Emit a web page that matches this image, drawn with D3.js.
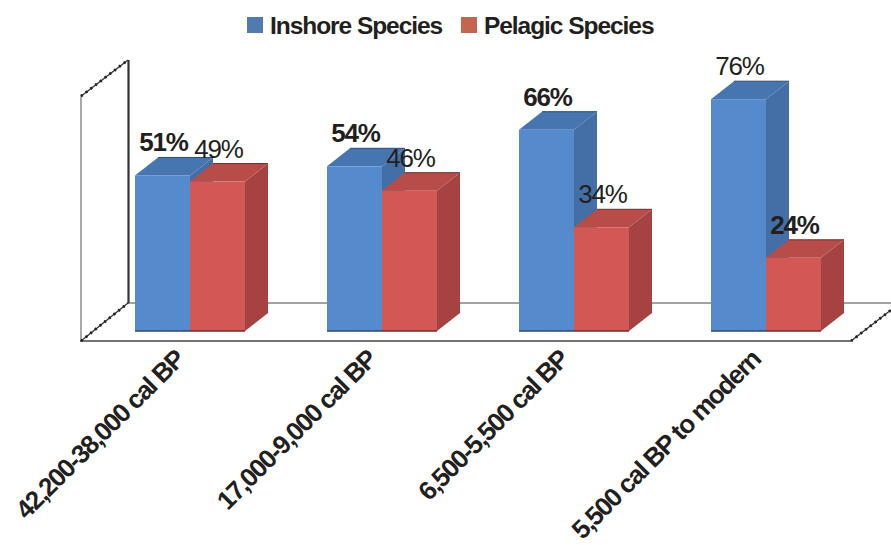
<!DOCTYPE html>
<meta charset="utf-8">
<style>
body { margin: 0; background-color: #fff; }
text { font-family: "Liberation Sans", Arial, sans-serif; fill: #231f20; }
.legend { font-size: 24.5px; font-weight: bold; letter-spacing: -1.05px; }
.cat { font-size: 26px; font-weight: bold; letter-spacing: -1.45px; }
.val { font-size: 26px; letter-spacing: -1.2px; text-anchor: middle; }
.val.bold { font-weight: bold; }
</style>
<body>
<svg width="891" height="545"></svg>
</body>
<script src="https://d3js.org/d3.v7.min.js"></script>
<script>

var categories = ["42,200-38,000 cal BP", "17,000-9,000 cal BP", "6,500-5,500 cal BP", "5,500 cal BP to modern"];
var seriesNames = ["Inshore Species", "Pelagic Species"];
var inshore = [51, 54, 66, 76];
var pelagic = [49, 46, 34, 24];
var inshoreBold = [true, true, true, false];
var pelagicBold = [false, false, false, true];

var front = ["#558acd", "#d25755"],
    side = ["#446fa6", "#a54342"],
    top_ = ["#4675af", "#b84c49"],
    edge = ["#2f4a6e", "#6e2b2a"],
    swatch = ["#4f7bb0", "#c4664f"];

var svg = d3.select("svg"),
    depth = {x: 23, y: -18},
    baseY = 331;

var x = d3.scaleBand()
    .domain(categories)
    .range([94, 862])
    .paddingInner(0.427)
    .paddingOuter(0.2135);

var x1 = d3.scaleBand()
    .domain([0, 1])
    .range([0, x.bandwidth()]);

var y = d3.scaleLinear()
    .domain([0, 100])
    .range([baseY, 26]);

// wall and floor
var floorFrontY = 341, floorBackY = 303, wallTop = y(77), wallBackTop = 60;
var frame = svg.append("g").attr("fill", "none");

function jag(x0, y0, x1_, y1_) {
  frame.append("line").attr("x1", x0).attr("y1", y0).attr("x2", x1_).attr("y2", y1_)
      .attr("stroke", "#333").attr("stroke-width", 1.3);
  frame.append("line").attr("x1", x0).attr("y1", y0).attr("x2", x1_).attr("y2", y1_)
      .attr("stroke", "#222").attr("stroke-width", 2.8).attr("stroke-dasharray", "2 4");
}

frame.append("line").attr("x1", 81).attr("y1", wallTop).attr("x2", 81).attr("y2", floorFrontY)
    .attr("stroke", "#555").attr("stroke-width", 1);
frame.append("line").attr("x1", 128.5).attr("y1", wallBackTop).attr("x2", 128.5).attr("y2", floorBackY)
    .attr("stroke", "#333").attr("stroke-width", 2.2);
frame.append("line").attr("x1", 128).attr("y1", floorBackY).attr("x2", 891).attr("y2", floorBackY)
    .attr("stroke", "#444").attr("stroke-width", 1);
frame.append("line").attr("x1", 80).attr("y1", floorFrontY).attr("x2", 851).attr("y2", floorFrontY)
    .attr("stroke", "#444").attr("stroke-width", 1.5);
jag(81, wallTop, 128, wallBackTop);
jag(81, floorFrontY, 128, floorBackY);
jag(851, floorFrontY, 891, 310);

// bars
var groups = svg.selectAll("g.group")
    .data(categories)
  .enter().append("g")
    .attr("class", "group")
    .attr("transform", function(d) { return "translate(" + x(d) + ",0)"; });

function poly(pts) { return pts.map(function(p) { return p.join(","); }).join(" "); }

groups.each(function(d, i) {
  var g = d3.select(this);
  [inshore[i], pelagic[i]].forEach(function(v, s) {
    var l = x1(s), r = l + x1.bandwidth(), t = y(v), b = y(0);
    g.append("polygon")
        .attr("points", poly([[r, t], [r + depth.x, t + depth.y], [r + depth.x, b + depth.y], [r, b]]))
        .attr("fill", side[s]);
    g.append("polygon")
        .attr("points", poly([[l, t], [l + depth.x, t + depth.y], [r + depth.x, t + depth.y], [r, t]]))
        .attr("fill", top_[s]);
    g.append("line")
        .attr("x1", l + depth.x).attr("x2", r + depth.x)
        .attr("y1", t + depth.y).attr("y2", t + depth.y)
        .attr("stroke", edge[s]).attr("stroke-width", 1);
    g.append("rect")
        .attr("x", l).attr("y", t)
        .attr("width", x1.bandwidth()).attr("height", b - t)
        .attr("fill", front[s]);
    g.append("line")
        .attr("x1", l).attr("x2", r)
        .attr("y1", b).attr("y2", b)
        .attr("stroke", edge[s]).attr("stroke-width", 1.5);
  });
});

// value labels sit on top, over every bar
categories.forEach(function(c, i) {
  [[inshore, inshoreBold], [pelagic, pelagicBold]].forEach(function(pair, s) {
    svg.append("text")
        .attr("class", pair[1][i] ? "val bold" : "val")
        .attr("x", x(c) + x1(s) + x1.bandwidth() / 2 + 1)
        .attr("y", y(pair[0][i]) - 24)
        .text(pair[0][i] + "%");
  });
});

// category labels
categories.forEach(function(c) {
  svg.append("text")
      .attr("class", "cat")
      .attr("text-anchor", "end")
      .attr("transform", "translate(" + (x(c) + x.bandwidth() / 2 - 4) + ",361) rotate(-45)")
      .text(c);
});

// legend
var legendX = [247, 461];
seriesNames.forEach(function(name, i) {
  svg.append("rect")
      .attr("x", legendX[i]).attr("y", 17)
      .attr("width", 16).attr("height", 16)
      .attr("fill", swatch[i]);
  svg.append("text")
      .attr("class", "legend")
      .attr("x", legendX[i] + 23).attr("y", 34)
      .text(name);
});

</script>
